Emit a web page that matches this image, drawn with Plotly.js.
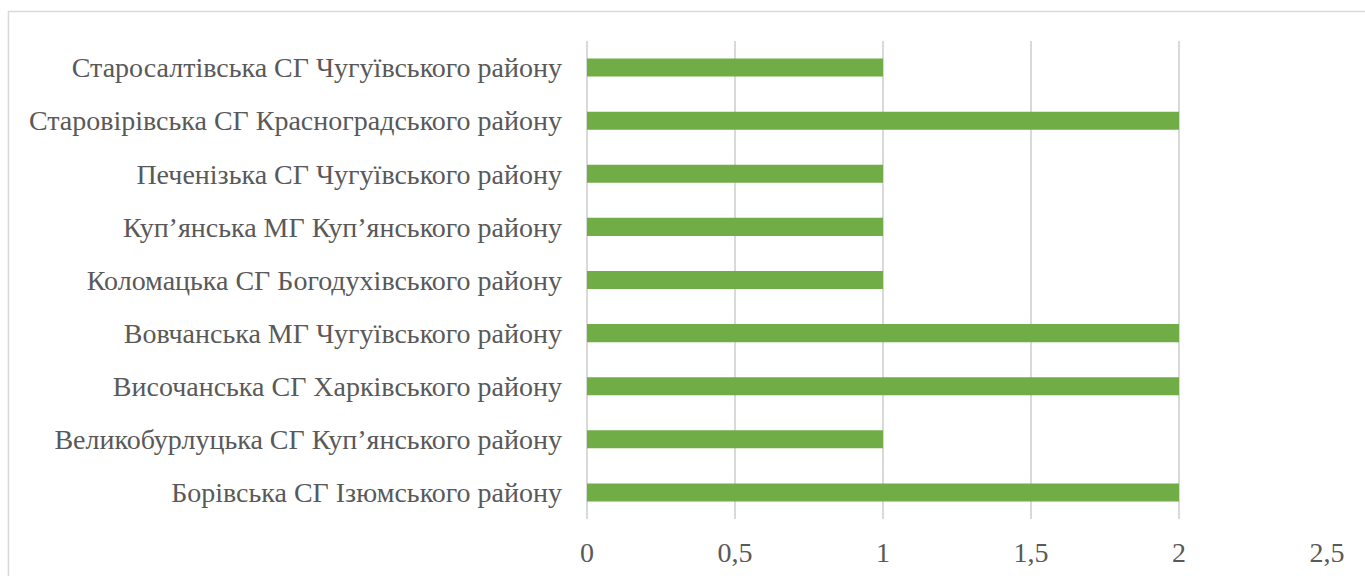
<!DOCTYPE html>
<html><head><meta charset="utf-8">
<script src="https://cdn.plot.ly/plotly-3.0.1.min.js"></script>
<style>html,body{margin:0;padding:0;background:#fff;}#chart{width:1365px;height:576px;}</style>
</head><body><div id="chart"></div>
<script>
const categories = [
  "Борівська СГ Ізюмського району",
  "Великобурлуцька СГ Куп’янського району",
  "Височанська СГ Харківського району",
  "Вовчанська МГ Чугуївського району",
  "Коломацька СГ Богодухівського району",
  "Куп’янська МГ Куп’янського району",
  "Печенізька СГ Чугуївського району",
  "Старовірівська СГ Красноградського району",
  "Старосалтівська СГ Чугуївського району"
];
const values = [2, 1, 2, 2, 1, 1, 1, 2, 1];
const xTickVals = [0, 0.5, 1, 1.5, 2, 2.5];
const xTickText = ["0", "0,5", "1", "1,5", "2", "2,5"];

const font = {family: 'Liberation Serif', size: 28, color: '#595959'};

Plotly.newPlot('chart', [{
  type: 'bar', orientation: 'h',
  y: categories, x: values,
  marker: {color: '#70ad47'},
  hoverinfo: 'x+y'
}], {
  width: 1365, height: 576,
  margin: {l: 587, r: 38, t: 41, b: 57},
  paper_bgcolor: '#fff', plot_bgcolor: '#fff',
  bargap: 0.66,
  showlegend: false,
  font: font,
  xaxis: {
    range: [0, 2.5], tickvals: xTickVals, ticktext: xTickText,
    showgrid: true, gridcolor: '#d9d9d9', gridwidth: 1.5,
    zeroline: true, zerolinecolor: '#d9d9d9', zerolinewidth: 1.5,
    showline: false, ticks: '', ticklabelstandoff: 14,
    tickfont: font, fixedrange: true
  },
  yaxis: {
    type: 'category', categoryorder: 'array', categoryarray: categories,
    showgrid: false, zeroline: false, showline: false, ticks: '',
    ticklabelstandoff: 24, tickfont: font, automargin: false
  },
  shapes: [{
    type: 'rect', xref: 'paper', yref: 'paper',
    x0: -0.7818, x1: 1.5, y0: -0.5, y1: 1.0617,
    line: {color: '#d9d9d9', width: 1.5}, fillcolor: 'rgba(0,0,0,0)', layer: 'below'
  }]
}, {displayModeBar: false, staticPlot: true});
</script></body></html>
